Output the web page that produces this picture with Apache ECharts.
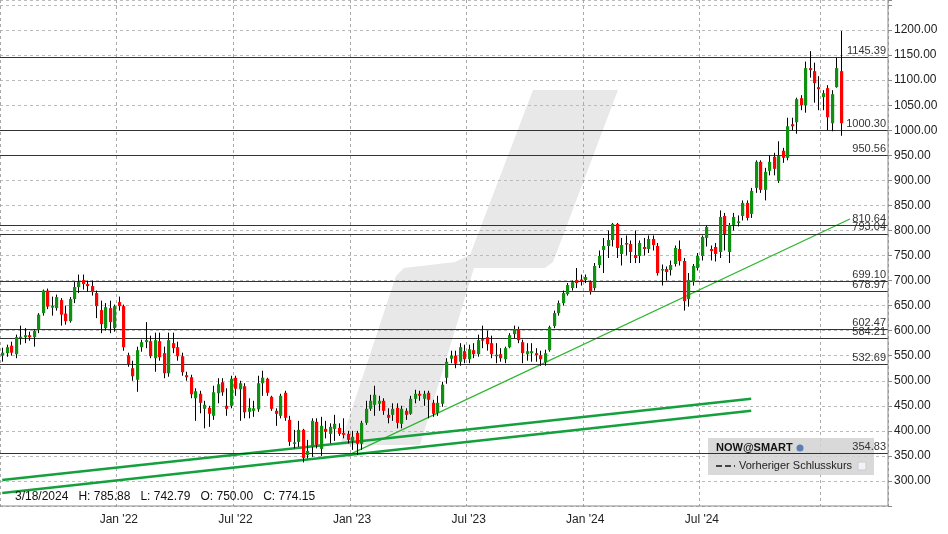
<!DOCTYPE html>
<html><head><meta charset="utf-8">
<script src="https://cdn.jsdelivr.net/npm/echarts@6/dist/echarts.min.js"></script>
<style>html,body{margin:0;padding:0;background:#fff}#c{width:948px;height:534px}</style>
</head><body><div id="c"></div>
<script>
// weekly candles [open, close, low, high], starting week of 2021-07-05
const candles = [
[550,556,538,566],[555,567,548,572],[570,556,550,578],[553,587,545,592],[585,588,572,610],[587,591,575,605],[591,587,580,598],[587,600,568,602],
[602,632,595,635],[635,680,630,682],[680,648,643,684],[646,650,630,668],[645,667,640,672],[661,632,610,665],[634,619,612,650],[619,663,616,667],
[663,687,655,697],[687,697,675,712],[701,693,682,712],[693,689,678,700],[689,677,670,700],[675,649,625,680],[641,613,595,660],[605,647,600,655],
[645,617,595,660],[605,649,598,652],[657,649,640,668],[649,567,560,652],[551,533,528,556],[525,509,500,540],[502,561,478,568],[567,577,558,582],
[577,581,565,617],[579,549,545,590],[545,581,518,596],[579,547,540,596],[555,515,505,568],[515,581,508,596],[575,565,555,596],[567,549,540,578],
[549,517,510,556],[511,507,500,518],[507,473,465,512],[465,479,420,485],[474,456,435,480],[444,452,405,460],[446,434,408,450],[430,477,422,490],
[475,493,455,505],[497,477,470,505],[450,444,430,485],[450,504,445,510],[506,484,470,510],[483,495,420,500],[489,437,425,495],[438,446,425,465],
[440,445,428,460],[443,495,438,510],[495,506,470,520],[504,476,470,506],[468,444,440,470],[440,434,410,445],[430,470,425,474],[476,426,420,480],
[422,378,370,430],[375,377,365,402],[378,402,368,420],[402,346,337,404],[352,360,345,382],[368,420,348,425],[418,372,365,425],[364,410,350,428],
[404,398,385,420],[394,408,375,415],[404,414,380,432],[406,394,390,415],[396,392,385,425],[394,382,375,400],[380,388,362,400],[396,374,352,400],
[374,416,362,420],[416,444,412,460],[444,460,440,472],[452,472,430,490],[454,460,440,470],[460,440,432,465],[432,426,415,445],[432,444,420,455],
[446,416,405,455],[414,444,405,450],[440,432,422,445],[434,464,432,470],[464,474,455,482],[474,470,460,480],[464,474,450,480],[476,462,425,480],
[456,434,428,462],[436,456,430,470],[454,492,448,498],[506,538,494,545],[544,550,535,560],[550,534,525,560],[538,567,530,575],[559,543,535,572],
[543,563,535,572],[561,553,545,575],[553,581,548,592],[583,581,565,610],[587,573,560,600],[575,553,545,590],[550,552,535,575],[553,545,538,565],
[543,565,535,568],[567,591,565,595],[593,603,585,610],[603,581,575,608],[577,555,535,582],[553,559,540,575],[555,559,538,575],[555,551,538,565],
[551,543,530,560],[537,555,530,562],[561,607,558,610],[609,635,605,640],[635,655,630,660],[655,675,650,680],[673,691,670,695],[685,697,680,700],
[701,695,685,725],[702,698,690,712],[701,707,695,712],[697,677,672,700],[685,729,680,735],[731,749,725,760],[761,769,715,785],[769,781,745,800],
[781,813,768,815],[813,765,745,815],[753,771,730,785],[775,773,750,790],[773,757,735,780],[751,745,735,800],[749,775,735,780],[767,763,750,785],
[763,783,755,790],[783,771,760,790],[769,715,710,775],[721,723,690,732],[723,717,700,728],[721,731,710,740],[733,765,728,770],[763,739,730,780],
[739,659,640,745],[663,701,648,715],[697,729,690,733],[725,749,720,755],[749,787,740,790],[785,807,768,810],[763,759,740,770],[767,753,738,775],
[757,827,745,840],[829,793,760,835],[757,811,735,815],[811,827,800,835],[816,818,808,830],[829,855,820,860],[855,825,820,860],[833,879,825,885],
[885,937,875,940],[937,881,875,940],[881,917,860,925],[919,937,910,950],[947,923,910,955],[899,949,895,978],[959,945,935,965],[945,1008,940,1025],
[1012,1008,1000,1025],[1016,1062,993,1065],[1064,1050,1040,1070],[1050,1124,1035,1137],[1124,1120,1105,1158],[1118,1094,1055,1135],[1086,1082,1040,1108],[1066,1074,1040,1080],
[1084,1026,1000,1090],[1014,1072,998,1080],[1086,1124,1085,1145],[1118,1014,989,1198]
];
const levels = [1145.39, 1000.30, 950.56, 810.64, 793.04, 699.10, 678.97, 602.47, 584.21, 532.69, 354.83];
const trendThin = [[78, 355], [189, 823]];
const trendA = [[-0.3, 302], [167, 464]];
const trendB = [[-0.3, 276], [167, 440]];
const labelWeeks = [26, 52, 78, 104, 130, 156];
const gridWeeks = [0, 26, 52, 78, 104, 130, 156, 183];

const N = 198;
const cats = [];
const start = Date.UTC(2021, 6, 5);
for (let i = 0; i < N; i++) {
  const d = new Date(start + i * 7 * 86400000);
  const m = d.getUTCMonth();
  const yy = String(d.getUTCFullYear()).slice(2);
  cats.push((m === 0 ? 'Jan' : m === 6 ? 'Jul' : String(m + 1)) + " '" + yy);
}
const data = candles.map((c, i) => [i, c[0], c[1], c[2], c[3]]);

const chart = echarts.init(document.getElementById('c'));
const levelLines = levels.map(v => ({
  yAxis: v,
  label: { formatter: v.toFixed(2), position: 'insideEndTop', distance: [2, 1], color: '#333', fontSize: 11, fontFamily: 'Liberation Sans' }
}));
chart.setOption({
  animation: false,
  grid: { left: 0, right: 60, top: 0, bottom: 28 },
  graphic: [
    { type: 'polygon', z: -10, shape: { points: [[533,90],[618,90],[553,262],[545,268],[474,268],[420,445],[340,445],[396,276],[404,268],[455,262],[470,255]] }, style: { fill: '#e8e8e8' }, silent: true },
    { type: 'text', left: 15, top: 491, z: 50, style: { text: '3/18/2024   H: 785.88   L: 742.79   O: 750.00   C: 774.15', fill: '#111', font: '12px "Liberation Sans"' } },
    { type: 'rect', z: 1, shape: { x: 708, y: 438, width: 166, height: 37 }, style: { fill: 'rgba(210,210,210,0.85)' } },
    { type: 'text', z: 2, left: 716, top: 442, style: { text: 'NOW@SMART', fill: '#111', font: 'bold 11px "Liberation Sans"' } },
    { type: 'circle', z: 2, shape: { cx: 800, cy: 448, r: 3.5 }, style: { fill: '#5a7fb0' } },
    { type: 'line', z: 2, shape: { x1: 716, y1: 466, x2: 735, y2: 466 }, style: { stroke: '#444', lineWidth: 2, lineDash: [6, 3] } },
    { type: 'text', z: 2, left: 739, top: 460, style: { text: 'Vorheriger Schlusskurs', fill: '#222', font: '11px "Liberation Sans"' } },
    { type: 'rect', z: 2, shape: { x: 858, y: 462, width: 8, height: 8 }, style: { fill: '#f2f2f8', stroke: '#ccc' } },
    { type: 'line', z: 51, shape: { x1: 888, y1: 0, x2: 888, y2: 506 }, style: { stroke: '#888', lineWidth: 1 } },
    { type: 'line', z: 51, shape: { x1: 0, y1: 506, x2: 888, y2: 506 }, style: { stroke: '#888', lineWidth: 1 } }
  ],
  xAxis: {
    type: 'category', data: cats, boundaryGap: true,
    axisLine: { show: false }, axisTick: { show: false },
    axisLabel: { interval: (i) => labelWeeks.includes(i), color: '#222', fontSize: 12, fontFamily: 'Liberation Sans', margin: 8 },
    splitLine: { show: true, interval: (i) => gridWeeks.includes(i), lineStyle: { color: '#aaa', type: [3, 3] } }
  },
  yAxis: {
    type: 'value', position: 'right', min: 250, max: 1260, interval: 50,
    axisLine: { show: false }, axisTick: { show: true, length: 4, lineStyle: { color: '#888' } },
    axisLabel: { formatter: v => (v >= 300 && v <= 1200) ? v.toFixed(2) : '', color: '#222', fontSize: 12, fontFamily: 'Liberation Sans', margin: 6 },
    splitLine: { lineStyle: { color: '#bbb', type: [3, 3] } }
  },
  series: [
    {
      type: 'custom', z: 5, data: data, encode: { x: 0, y: [1, 2, 3, 4] },
      renderItem: (params, api) => {
        const i = api.value(0);
        const o = api.coord([i, api.value(1)]), c = api.coord([i, api.value(2)]);
        const l = api.coord([i, api.value(3)]), h = api.coord([i, api.value(4)]);
        const up = api.value(2) >= api.value(1);
        const x = Math.round(o[0]);
        const top = Math.min(o[1], c[1]), hgt = Math.max(Math.abs(o[1] - c[1]), 1.5);
        return { type: 'group', children: [
          { type: 'line', shape: { x1: x + 0.5, y1: h[1], x2: x + 0.5, y2: l[1] }, style: { stroke: '#000', lineWidth: 1 } },
          { type: 'rect', shape: { x: x - 1, y: top, width: 3.2, height: hgt }, style: { fill: up ? '#109010' : '#ff0000' } }
        ] };
      }
    },
    { type: 'line', z: 10, data: [], markLine: { silent: true, symbol: 'none', lineStyle: { color: '#333', width: 1, type: 'solid' }, data: levelLines } },
    { type: 'line', z: 4, data: trendThin, symbol: 'none', lineStyle: { color: '#2db52d', width: 1.2 } },
    { type: 'line', z: 4, data: trendA, symbol: 'none', lineStyle: { color: '#14a03c', width: 2.5 } },
    { type: 'line', z: 4, data: trendB, symbol: 'none', lineStyle: { color: '#14a03c', width: 2.5 } }
  ]
});
</script></body></html>
